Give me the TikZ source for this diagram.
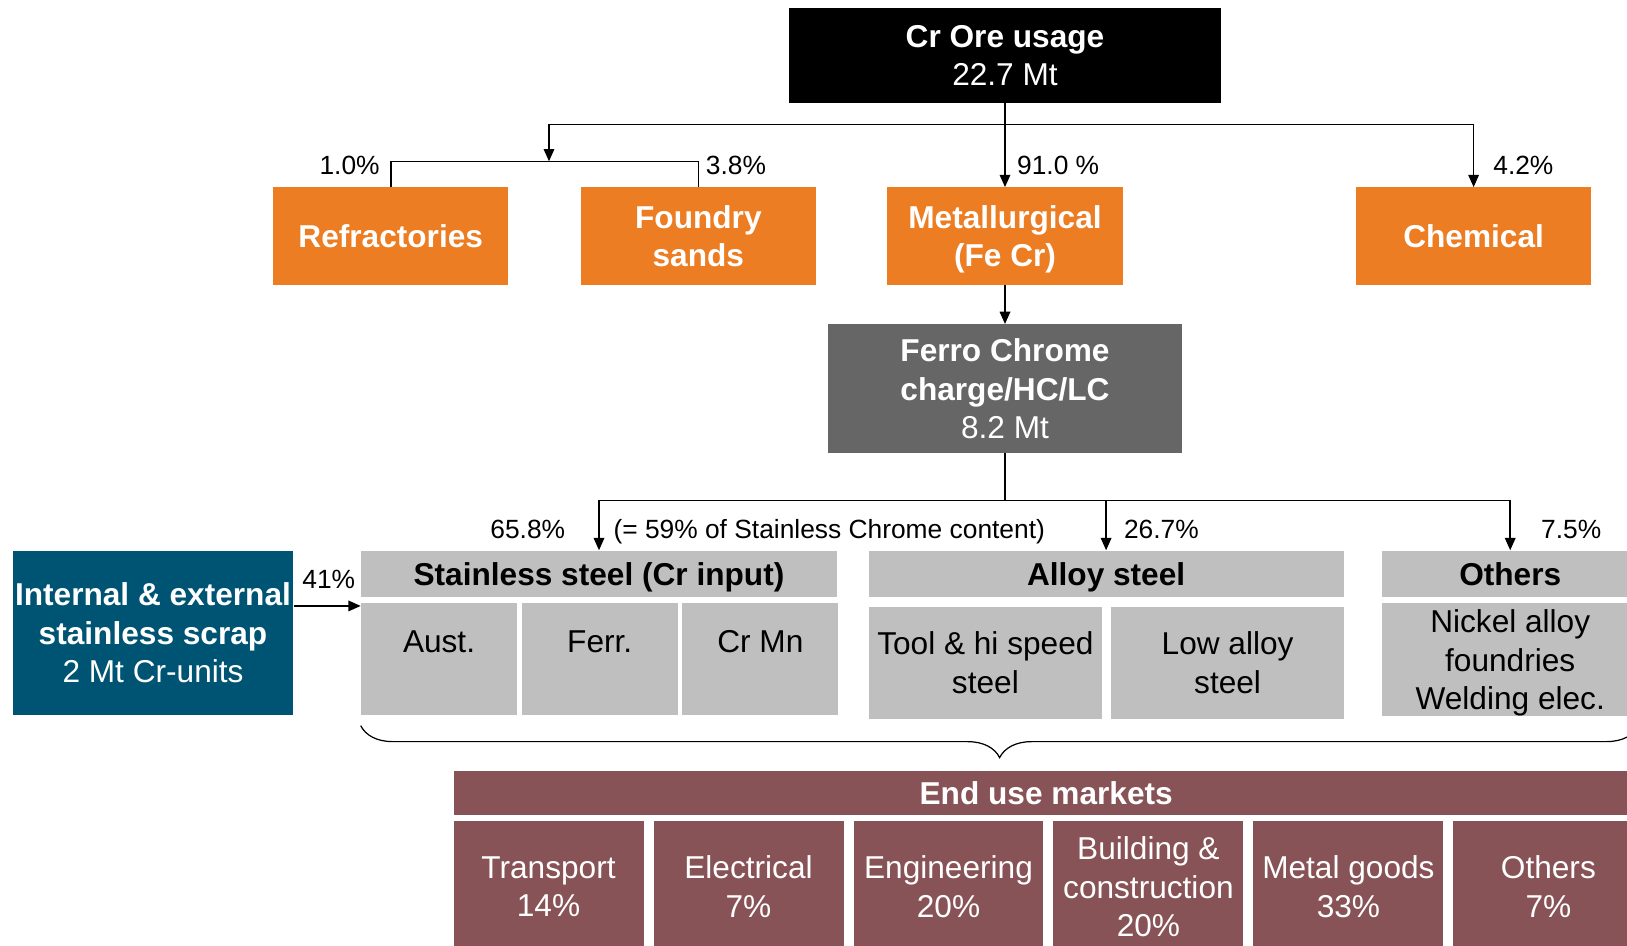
\documentclass[tikz,border=0pt]{standalone}
\usepackage{fontspec}
\setmainfont{Liberation Sans}
\usepackage{xcolor}
\usepackage{tikz}
\usetikzlibrary{
  positioning, arrows.meta, decorations.pathreplacing
}

\definecolor{oreorange}{RGB}{237,125,34}
\definecolor{ferrogrey}{RGB}{102,102,102}
\definecolor{cellgrey}{RGB}{191,191,191}
\definecolor{scrapblue}{RGB}{0,84,115}
\definecolor{mktred}{RGB}{135,83,86}

\tikzset{
  %% Filled block with white text
  fbox/.style={
    rectangle, fill=#1, text=white, draw=none,
    align=center, inner sep=1pt, text depth=-1.8pt,
    font=\fontsize{18}{21.8}\selectfont
  },
  fbox/.default=oreorange,
  %% First-use block
  orangebox/.style={
    fbox=oreorange, minimum width=4.71cm, minimum height=1.95cm,
    font=\fontsize{18}{21.8}\selectfont\bfseries
  },
  %% Grey steel cells
  cell/.style={
    rectangle, fill=cellgrey, text=black, draw=none,
    align=center, inner sep=1pt, text depth=-1.8pt,
    font=\fontsize{18}{21.8}\selectfont
  },
  cellhead/.style={
    cell, minimum height=0.92cm,
    font=\fontsize{18}{21.8}\selectfont\bfseries
  },
  celltop/.style={
    cell, inner sep=0pt, minimum width=3.12cm,
    text height=0.99cm, text depth=1.25cm
  },
  %% End use market block
  mkt/.style={fbox=mktred, minimum width=3.8cm, minimum height=2.64cm},
  %% Share labels
  pct/.style={inner sep=0pt, text depth=-1.8pt, font=\fontsize{15}{18}\selectfont},
  %% Connectors
  conn/.style={draw=black, line width=0.9pt},
  arr/.style={conn, -{Triangle[length=7pt,width=6pt]}},
}

\begin{document}
\begin{tikzpicture}[x=0.02cm, y=-0.02cm]
  \useasboundingbox (0,0) rectangle (1627,946);
  \clip (0,0) rectangle (1627,946);

  %% Ore and first uses
  \node[fbox=black, minimum width=8.66cm, minimum height=1.9cm, text depth=-4.8pt]
       (ore) at (1005,55.5) {\textbf{Cr Ore usage}\\22.7 Mt};
  \node[orangebox, below=1.676cm of ore] (met) {Metallurgical\\(Fe Cr)};
  \node[orangebox, left=1.41cm of met] (found) {Foundry\\sands};
  \node[orangebox, left=1.43cm of found] (refr) {Refractories};
  \node[orangebox, right=4.65cm of met] (chem) {Chemical};
  \node[fbox=ferrogrey, minimum width=7.1cm, minimum height=2.57cm,
        below=0.774cm of met] (ferro)
       {\textbf{Ferro Chrome}\\\textbf{charge/HC/LC}\\8.2 Mt};

  %% Steel grades
  \node[cellhead, minimum width=9.52cm] (sshead) at (599,573.6) {Stainless steel (Cr input)};
  \node[celltop, below right=0.12cm and 0cm of sshead.south west] (aust) {Aust.};
  \node[celltop, right=0.08cm of aust] (ferr) {Ferr.};
  \node[celltop, right=0.08cm of ferr] (crmn) {Cr Mn};

  \node[cellhead, minimum width=9.5cm, right=0.62cm of sshead] (ashead) {Alloy steel};
  \node[cell, minimum width=4.67cm, minimum height=2.24cm,
        below right=0.186cm and 0cm of ashead.south west] (tool) {Tool \& hi speed\\steel};
  \node[cell, minimum width=4.66cm, minimum height=2.24cm, right=0.166cm of tool]
       (lowal) {Low alloy\\steel};

  \node[cellhead, minimum width=5.12cm, right=0.76cm of ashead] (oshead) {Others};
  \node[cell, minimum width=5.12cm, minimum height=2.26cm, text depth=-4pt,
        below=0.12cm of oshead] (onote) {Nickel alloy\\foundries\\Welding elec.};

  %% Scrap input
  \node[fbox=scrapblue, minimum width=5.62cm, minimum height=3.28cm, inner sep=0pt,
        text depth=-4.6pt] (scrap) at (153,632.6)
       {\textbf{Internal \& external}\\\textbf{stainless scrap}\\2 Mt Cr-units};

  %% End use markets
  \node[fbox=mktred, minimum width=23.71cm, minimum height=0.88cm,
        font=\fontsize{18}{21.8}\selectfont\bfseries] (mkthead) at (1046.2,793) {End use markets};
  \node[mkt, below right=0.1cm and 0cm of mkthead.south west] (transp) {Transport\\14\%};
  \node[mkt, right=0.186cm of transp] (elec) {Electrical\\7\%};
  \node[mkt, right=0.186cm of elec] (eng) {Engineering\\20\%};
  \node[mkt, right=0.186cm of eng] (build) {Building \&\\construction\\20\%};
  \node[mkt, right=0.186cm of build] (metal) {Metal goods\\33\%};
  \node[mkt, right=0.186cm of metal] (omkt) {Others\\7\%};

  %% Shares
  \node[pct, anchor=east] (p10) at (380,165) {1.0\%};
  \node[pct, anchor=west] (p38) at (705.6,165) {3.8\%};
  \node[pct, anchor=west] (p91) at (1016.8,165) {91.0 \%};
  \node[pct, anchor=west] (p42) at (1493,165) {4.2\%};
  \node[pct, anchor=east] (p658) at (565.5,529) {65.8\%};
  \node[pct, anchor=west] (pnote) at (613.2,529) {(= 59\% of Stainless Chrome content)};
  \node[pct, anchor=west] (p267) at (1123.7,529) {26.7\%};
  \node[pct, anchor=west] (p75) at (1540.8,529) {7.5\%};
  \node[pct, anchor=west] (p41) at (302,579) {41\%};

  %% Connectors
  \coordinate (osplit) at (1005,124.3);
  \coordinate (rfjoin) at (549,161.3);
  \coordinate (fsplit) at (1005,500.3);
  \coordinate (sin) at ([yshift=-0.06cm]aust.north west);
  \coordinate (bl) at ([yshift=-0.2cm]aust.south west);
  \coordinate (br) at (bl -| onote.east);

  \draw[arr] (ore) -- (met);
  \draw[arr] (osplit) -| (chem);
  \draw[arr] (osplit) -| (rfjoin);
  \draw[conn] (refr) |- (rfjoin) -| (found);
  \draw[arr] (met) -- (ferro);
  \draw[conn] (ferro) -- (fsplit);
  \draw[arr] (fsplit) -| (sshead);
  \draw[arr] (fsplit) -| (ashead);
  \draw[arr] (fsplit) -| (oshead);
  \draw[arr] (scrap.east |- sin) -- (sin);
  \draw[conn, line width=0.7pt, decorate, decoration={brace, mirror, amplitude=0.64cm}]
    (bl) -- (br);

\end{tikzpicture}
\end{document}
